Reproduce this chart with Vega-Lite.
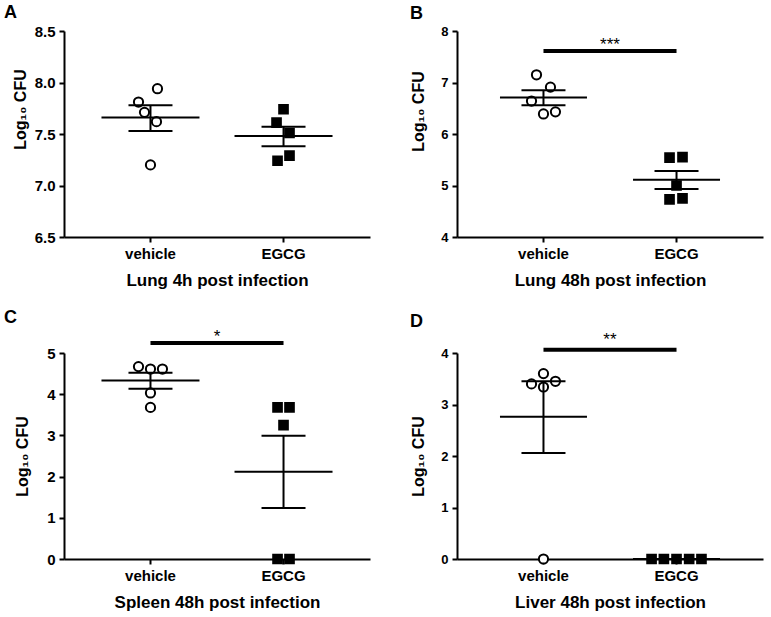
{
  "$schema": "https://vega.github.io/schema/vega-lite/v6.json",
  "background": "white",
  "padding": {"left": 4, "top": 4, "right": 2, "bottom": 2},
  "datasets": {
    "points": [
      {"panel": "A", "group": "vehicle", "value": 7.94, "jitter": 0.21},
      {"panel": "A", "group": "vehicle", "value": 7.81, "jitter": -0.36},
      {"panel": "A", "group": "vehicle", "value": 7.71, "jitter": -0.18},
      {"panel": "A", "group": "vehicle", "value": 7.62, "jitter": 0.18},
      {"panel": "A", "group": "vehicle", "value": 7.20, "jitter": 0},
      {"panel": "A", "group": "EGCG", "value": 7.74, "jitter": 0},
      {"panel": "A", "group": "EGCG", "value": 7.61, "jitter": -0.21},
      {"panel": "A", "group": "EGCG", "value": 7.51, "jitter": 0.18},
      {"panel": "A", "group": "EGCG", "value": 7.29, "jitter": 0.18},
      {"panel": "A", "group": "EGCG", "value": 7.24, "jitter": -0.18},
      {"panel": "B", "group": "vehicle", "value": 7.15, "jitter": -0.21},
      {"panel": "B", "group": "vehicle", "value": 6.91, "jitter": 0.21},
      {"panel": "B", "group": "vehicle", "value": 6.64, "jitter": -0.36},
      {"panel": "B", "group": "vehicle", "value": 6.39, "jitter": 0},
      {"panel": "B", "group": "vehicle", "value": 6.43, "jitter": 0.36},
      {"panel": "B", "group": "EGCG", "value": 5.54, "jitter": -0.21},
      {"panel": "B", "group": "EGCG", "value": 5.55, "jitter": 0.18},
      {"panel": "B", "group": "EGCG", "value": 5.00, "jitter": 0},
      {"panel": "B", "group": "EGCG", "value": 4.73, "jitter": -0.21},
      {"panel": "B", "group": "EGCG", "value": 4.75, "jitter": 0.18},
      {"panel": "C", "group": "vehicle", "value": 4.67, "jitter": -0.36},
      {"panel": "C", "group": "vehicle", "value": 4.61, "jitter": 0},
      {"panel": "C", "group": "vehicle", "value": 4.61, "jitter": 0.36},
      {"panel": "C", "group": "vehicle", "value": 4.03, "jitter": 0},
      {"panel": "C", "group": "vehicle", "value": 3.68, "jitter": 0},
      {"panel": "C", "group": "EGCG", "value": 3.68, "jitter": -0.18},
      {"panel": "C", "group": "EGCG", "value": 3.68, "jitter": 0.18},
      {"panel": "C", "group": "EGCG", "value": 3.25, "jitter": 0},
      {"panel": "C", "group": "EGCG", "value": 0, "jitter": -0.18},
      {"panel": "C", "group": "EGCG", "value": 0, "jitter": 0.18},
      {"panel": "D", "group": "vehicle", "value": 3.60, "jitter": 0},
      {"panel": "D", "group": "vehicle", "value": 3.40, "jitter": -0.36},
      {"panel": "D", "group": "vehicle", "value": 3.45, "jitter": 0.36},
      {"panel": "D", "group": "vehicle", "value": 3.34, "jitter": 0},
      {"panel": "D", "group": "vehicle", "value": 0, "jitter": 0},
      {"panel": "D", "group": "EGCG", "value": 0, "jitter": -0.75},
      {"panel": "D", "group": "EGCG", "value": 0, "jitter": -0.38},
      {"panel": "D", "group": "EGCG", "value": 0, "jitter": 0},
      {"panel": "D", "group": "EGCG", "value": 0, "jitter": 0.38},
      {"panel": "D", "group": "EGCG", "value": 0, "jitter": 0.75}
    ],
    "summary": [
      {"panel": "A", "group": "vehicle", "mean": 7.66, "lo": 7.53, "hi": 7.78},
      {"panel": "A", "group": "EGCG", "mean": 7.48, "lo": 7.38, "hi": 7.57},
      {"panel": "B", "group": "vehicle", "mean": 6.71, "lo": 6.56, "hi": 6.85},
      {"panel": "B", "group": "EGCG", "mean": 5.11, "lo": 4.93, "hi": 5.28},
      {"panel": "C", "group": "vehicle", "mean": 4.33, "lo": 4.13, "hi": 4.52},
      {"panel": "C", "group": "EGCG", "mean": 2.12, "lo": 1.24, "hi": 2.99},
      {"panel": "D", "group": "vehicle", "mean": 2.76, "lo": 2.06, "hi": 3.45},
      {"panel": "D", "group": "EGCG", "mean": 0, "lo": 0, "hi": 0}
    ],
    "sig": [
      {"panel": "B", "from": "vehicle", "to": "EGCG", "y": 7.61, "ty": 7.64, "label": "***"},
      {"panel": "C", "from": "vehicle", "to": "EGCG", "y": 5.24, "ty": 5.27, "label": "*"},
      {"panel": "D", "from": "vehicle", "to": "EGCG", "y": 4.065, "ty": 4.15, "label": "**"}
    ]
  },
  "config": {
    "font": "Liberation Sans",
    "view": {"stroke": null},
    "axis": {"domainColor": "black", "domainWidth": 2, "tickColor": "black", "tickWidth": 2, "tickSize": 5, "labelColor": "black", "titleColor": "black", "labelFontWeight": "bold", "titleFontWeight": "bold", "grid": false, "labelFont": "Liberation Sans", "titleFont": "Liberation Sans"},
    "axisX": {"labelAngle": 0, "labelFontSize": 15, "titleFontSize": 17, "labelPadding": 4, "titlePadding": 11, "zindex": 1},
    "axisY": {"labelFontSize": 15, "titleFontSize": 16, "labelPadding": 4, "titlePadding": 6},
    "title": {"fontSize": 18, "fontWeight": "bold", "anchor": "start", "frame": "group", "color": "black", "font": "Liberation Sans"}
  },
  "columns": 2,
  "spacing": {"column": 40, "row": 20},
  "concat": [
    {
      "title": {"text": "A", "dx": -60, "offset": 2},
      "width": 306, "height": 206,
      "layer": [
        {
          "data": {"name": "points"}, "transform": [{"filter": "datum.panel === 'A'"}],
          "mark": {"type": "point", "filled": true, "stroke": "black", "strokeWidth": 2, "opacity": 1},
          "encoding": {
            "x": {"field": "group", "type": "nominal", "title": "Lung 4h post infection", "scale": {"domain": ["vehicle", "EGCG"], "paddingInner": 0.5, "paddingOuter": 0.4}},
            "xOffset": {"field": "jitter", "type": "quantitative", "scale": {"domain": [-1, 1]}},
            "y": {"field": "value", "type": "quantitative", "title": "Log₁₀ CFU", "scale": {"domain": [6.5, 8.5], "nice": false, "zero": false}, "axis": {"values": [6.5, 7, 7.5, 8, 8.5], "format": ".1f", "titleY": 78}},
            "shape": {"field": "group", "type": "nominal", "scale": {"domain": ["vehicle", "EGCG"], "range": ["circle", "square"]}, "legend": null},
            "fill": {"field": "group", "type": "nominal", "scale": {"domain": ["vehicle", "EGCG"], "range": ["white", "black"]}, "legend": null},
            "size": {"field": "group", "type": "ordinal", "scale": {"domain": ["vehicle", "EGCG"], "range": [85, 75]}, "legend": null}
          }
        },
        {
          "data": {"name": "summary"}, "transform": [{"filter": "datum.panel === 'A'"}],
          "mark": {"type": "tick", "orient": "horizontal", "size": 98, "thickness": 2, "color": "black", "opacity": 1},
          "encoding": {"x": {"field": "group", "type": "nominal", "title": "Lung 4h post infection"}, "y": {"field": "mean", "type": "quantitative", "title": "Log₁₀ CFU"}}
        },
        {
          "data": {"name": "summary"}, "transform": [{"filter": "datum.panel === 'A'"}],
          "mark": {"type": "tick", "orient": "horizontal", "size": 44, "thickness": 2, "color": "black", "opacity": 1},
          "encoding": {"x": {"field": "group", "type": "nominal", "title": "Lung 4h post infection"}, "y": {"field": "lo", "type": "quantitative", "title": "Log₁₀ CFU"}}
        },
        {
          "data": {"name": "summary"}, "transform": [{"filter": "datum.panel === 'A'"}],
          "mark": {"type": "tick", "orient": "horizontal", "size": 44, "thickness": 2, "color": "black", "opacity": 1},
          "encoding": {"x": {"field": "group", "type": "nominal", "title": "Lung 4h post infection"}, "y": {"field": "hi", "type": "quantitative", "title": "Log₁₀ CFU"}}
        },
        {
          "data": {"name": "summary"}, "transform": [{"filter": "datum.panel === 'A'"}],
          "mark": {"type": "rule", "strokeWidth": 2, "color": "black"},
          "encoding": {"x": {"field": "group", "type": "nominal", "title": "Lung 4h post infection"}, "y": {"field": "lo", "type": "quantitative", "title": "Log₁₀ CFU"}, "y2": {"field": "hi"}}
        }
      ]
    },
    {
      "title": {"text": "B", "dx": -47, "offset": 2},
      "width": 306, "height": 206,
      "layer": [
        {
          "data": {"name": "points"}, "transform": [{"filter": "datum.panel === 'B'"}],
          "mark": {"type": "point", "filled": true, "stroke": "black", "strokeWidth": 2, "opacity": 1},
          "encoding": {
            "x": {"field": "group", "type": "nominal", "title": "Lung 48h post infection", "scale": {"domain": ["vehicle", "EGCG"], "paddingInner": 0.5, "paddingOuter": 0.4}},
            "xOffset": {"field": "jitter", "type": "quantitative", "scale": {"domain": [-1, 1]}},
            "y": {"field": "value", "type": "quantitative", "title": "Log₁₀ CFU", "scale": {"domain": [4, 8], "nice": false, "zero": false}, "axis": {"values": [4, 5, 6, 7, 8], "format": "d", "titleY": 80, "labelFontSize": 13, "titlePadding": 14}},
            "shape": {"field": "group", "type": "nominal", "scale": {"domain": ["vehicle", "EGCG"], "range": ["circle", "square"]}, "legend": null},
            "fill": {"field": "group", "type": "nominal", "scale": {"domain": ["vehicle", "EGCG"], "range": ["white", "black"]}, "legend": null},
            "size": {"field": "group", "type": "ordinal", "scale": {"domain": ["vehicle", "EGCG"], "range": [85, 75]}, "legend": null}
          }
        },
        {
          "data": {"name": "summary"}, "transform": [{"filter": "datum.panel === 'B'"}],
          "mark": {"type": "tick", "orient": "horizontal", "size": 87, "thickness": 2, "color": "black", "opacity": 1},
          "encoding": {"x": {"field": "group", "type": "nominal", "title": "Lung 48h post infection"}, "y": {"field": "mean", "type": "quantitative", "title": "Log₁₀ CFU"}}
        },
        {
          "data": {"name": "summary"}, "transform": [{"filter": "datum.panel === 'B'"}],
          "mark": {"type": "tick", "orient": "horizontal", "size": 44, "thickness": 2, "color": "black", "opacity": 1},
          "encoding": {"x": {"field": "group", "type": "nominal", "title": "Lung 48h post infection"}, "y": {"field": "lo", "type": "quantitative", "title": "Log₁₀ CFU"}}
        },
        {
          "data": {"name": "summary"}, "transform": [{"filter": "datum.panel === 'B'"}],
          "mark": {"type": "tick", "orient": "horizontal", "size": 44, "thickness": 2, "color": "black", "opacity": 1},
          "encoding": {"x": {"field": "group", "type": "nominal", "title": "Lung 48h post infection"}, "y": {"field": "hi", "type": "quantitative", "title": "Log₁₀ CFU"}}
        },
        {
          "data": {"name": "summary"}, "transform": [{"filter": "datum.panel === 'B'"}],
          "mark": {"type": "rule", "strokeWidth": 2, "color": "black"},
          "encoding": {"x": {"field": "group", "type": "nominal", "title": "Lung 48h post infection"}, "y": {"field": "lo", "type": "quantitative", "title": "Log₁₀ CFU"}, "y2": {"field": "hi"}}
        },
        {
          "data": {"name": "sig"}, "transform": [{"filter": "datum.panel === 'B'"}],
          "mark": {"type": "rule", "strokeWidth": 4, "color": "black"},
          "encoding": {"x": {"field": "from", "type": "nominal", "title": "Lung 48h post infection"}, "x2": {"field": "to"}, "y": {"field": "y", "type": "quantitative", "title": "Log₁₀ CFU"}}
        },
        {
          "data": {"name": "sig"}, "transform": [{"filter": "datum.panel === 'B'"}],
          "mark": {"type": "text", "fontSize": 17, "color": "black", "baseline": "alphabetic", "align": "center", "dx": 66.5},
          "encoding": {"x": {"field": "from", "type": "nominal", "title": "Lung 48h post infection"}, "y": {"field": "ty", "type": "quantitative", "title": "Log₁₀ CFU"}, "text": {"field": "label"}}
        }
      ]
    },
    {
      "title": {"text": "C", "dx": -60, "offset": 1},
      "width": 306, "height": 206,
      "layer": [
        {
          "data": {"name": "points"}, "transform": [{"filter": "datum.panel === 'C'"}],
          "mark": {"type": "point", "filled": true, "stroke": "black", "strokeWidth": 2, "opacity": 1},
          "encoding": {
            "x": {"field": "group", "type": "nominal", "title": "Spleen 48h post infection", "scale": {"domain": ["vehicle", "EGCG"], "paddingInner": 0.5, "paddingOuter": 0.4}},
            "xOffset": {"field": "jitter", "type": "quantitative", "scale": {"domain": [-1, 1]}},
            "y": {"field": "value", "type": "quantitative", "title": "Log₁₀ CFU", "scale": {"domain": [0, 5], "nice": false}, "axis": {"values": [0, 1, 2, 3, 4, 5], "format": "d", "titlePadding": 16}},
            "shape": {"field": "group", "type": "nominal", "scale": {"domain": ["vehicle", "EGCG"], "range": ["circle", "square"]}, "legend": null},
            "fill": {"field": "group", "type": "nominal", "scale": {"domain": ["vehicle", "EGCG"], "range": ["white", "black"]}, "legend": null},
            "size": {"field": "group", "type": "ordinal", "scale": {"domain": ["vehicle", "EGCG"], "range": [85, 75]}, "legend": null}
          }
        },
        {
          "data": {"name": "summary"}, "transform": [{"filter": "datum.panel === 'C'"}],
          "mark": {"type": "tick", "orient": "horizontal", "size": 98, "thickness": 2, "color": "black", "opacity": 1},
          "encoding": {"x": {"field": "group", "type": "nominal", "title": "Spleen 48h post infection"}, "y": {"field": "mean", "type": "quantitative", "title": "Log₁₀ CFU"}}
        },
        {
          "data": {"name": "summary"}, "transform": [{"filter": "datum.panel === 'C'"}],
          "mark": {"type": "tick", "orient": "horizontal", "size": 44, "thickness": 2, "color": "black", "opacity": 1},
          "encoding": {"x": {"field": "group", "type": "nominal", "title": "Spleen 48h post infection"}, "y": {"field": "lo", "type": "quantitative", "title": "Log₁₀ CFU"}}
        },
        {
          "data": {"name": "summary"}, "transform": [{"filter": "datum.panel === 'C'"}],
          "mark": {"type": "tick", "orient": "horizontal", "size": 44, "thickness": 2, "color": "black", "opacity": 1},
          "encoding": {"x": {"field": "group", "type": "nominal", "title": "Spleen 48h post infection"}, "y": {"field": "hi", "type": "quantitative", "title": "Log₁₀ CFU"}}
        },
        {
          "data": {"name": "summary"}, "transform": [{"filter": "datum.panel === 'C'"}],
          "mark": {"type": "rule", "strokeWidth": 2, "color": "black"},
          "encoding": {"x": {"field": "group", "type": "nominal", "title": "Spleen 48h post infection"}, "y": {"field": "lo", "type": "quantitative", "title": "Log₁₀ CFU"}, "y2": {"field": "hi"}}
        },
        {
          "data": {"name": "sig"}, "transform": [{"filter": "datum.panel === 'C'"}],
          "mark": {"type": "rule", "strokeWidth": 4, "color": "black"},
          "encoding": {"x": {"field": "from", "type": "nominal", "title": "Spleen 48h post infection"}, "x2": {"field": "to"}, "y": {"field": "y", "type": "quantitative", "title": "Log₁₀ CFU"}}
        },
        {
          "data": {"name": "sig"}, "transform": [{"filter": "datum.panel === 'C'"}],
          "mark": {"type": "text", "fontSize": 17, "color": "black", "baseline": "alphabetic", "align": "center", "dx": 66.5},
          "encoding": {"x": {"field": "from", "type": "nominal", "title": "Spleen 48h post infection"}, "y": {"field": "ty", "type": "quantitative", "title": "Log₁₀ CFU"}, "text": {"field": "label"}}
        }
      ]
    },
    {
      "title": {"text": "D", "dx": -47, "offset": 0},
      "width": 306, "height": 206,
      "layer": [
        {
          "data": {"name": "points"}, "transform": [{"filter": "datum.panel === 'D'"}],
          "mark": {"type": "point", "filled": true, "stroke": "black", "strokeWidth": 2, "opacity": 1},
          "encoding": {
            "x": {"field": "group", "type": "nominal", "title": "Liver 48h post infection", "scale": {"domain": ["vehicle", "EGCG"], "paddingInner": 0.5, "paddingOuter": 0.4}},
            "xOffset": {"field": "jitter", "type": "quantitative", "scale": {"domain": [-1, 1]}},
            "y": {"field": "value", "type": "quantitative", "title": "Log₁₀ CFU", "scale": {"domain": [0, 4], "nice": false}, "axis": {"values": [0, 1, 2, 3, 4], "format": "d", "labelFontSize": 13, "titlePadding": 14}},
            "shape": {"field": "group", "type": "nominal", "scale": {"domain": ["vehicle", "EGCG"], "range": ["circle", "square"]}, "legend": null},
            "fill": {"field": "group", "type": "nominal", "scale": {"domain": ["vehicle", "EGCG"], "range": ["white", "black"]}, "legend": null},
            "size": {"field": "group", "type": "ordinal", "scale": {"domain": ["vehicle", "EGCG"], "range": [85, 75]}, "legend": null}
          }
        },
        {
          "data": {"name": "summary"}, "transform": [{"filter": "datum.panel === 'D'"}],
          "mark": {"type": "tick", "orient": "horizontal", "size": 87, "thickness": 2, "color": "black", "opacity": 1},
          "encoding": {"x": {"field": "group", "type": "nominal", "title": "Liver 48h post infection"}, "y": {"field": "mean", "type": "quantitative", "title": "Log₁₀ CFU"}}
        },
        {
          "data": {"name": "summary"}, "transform": [{"filter": "datum.panel === 'D'"}],
          "mark": {"type": "tick", "orient": "horizontal", "size": 44, "thickness": 2, "color": "black", "opacity": 1},
          "encoding": {"x": {"field": "group", "type": "nominal", "title": "Liver 48h post infection"}, "y": {"field": "lo", "type": "quantitative", "title": "Log₁₀ CFU"}}
        },
        {
          "data": {"name": "summary"}, "transform": [{"filter": "datum.panel === 'D'"}],
          "mark": {"type": "tick", "orient": "horizontal", "size": 44, "thickness": 2, "color": "black", "opacity": 1},
          "encoding": {"x": {"field": "group", "type": "nominal", "title": "Liver 48h post infection"}, "y": {"field": "hi", "type": "quantitative", "title": "Log₁₀ CFU"}}
        },
        {
          "data": {"name": "summary"}, "transform": [{"filter": "datum.panel === 'D'"}],
          "mark": {"type": "rule", "strokeWidth": 2, "color": "black"},
          "encoding": {"x": {"field": "group", "type": "nominal", "title": "Liver 48h post infection"}, "y": {"field": "lo", "type": "quantitative", "title": "Log₁₀ CFU"}, "y2": {"field": "hi"}}
        },
        {
          "data": {"name": "sig"}, "transform": [{"filter": "datum.panel === 'D'"}],
          "mark": {"type": "rule", "strokeWidth": 4, "color": "black"},
          "encoding": {"x": {"field": "from", "type": "nominal", "title": "Liver 48h post infection"}, "x2": {"field": "to"}, "y": {"field": "y", "type": "quantitative", "title": "Log₁₀ CFU"}}
        },
        {
          "data": {"name": "sig"}, "transform": [{"filter": "datum.panel === 'D'"}],
          "mark": {"type": "text", "fontSize": 17, "color": "black", "baseline": "alphabetic", "align": "center", "dx": 66.5},
          "encoding": {"x": {"field": "from", "type": "nominal", "title": "Liver 48h post infection"}, "y": {"field": "ty", "type": "quantitative", "title": "Log₁₀ CFU"}, "text": {"field": "label"}}
        }
      ]
    }
  ]
}
